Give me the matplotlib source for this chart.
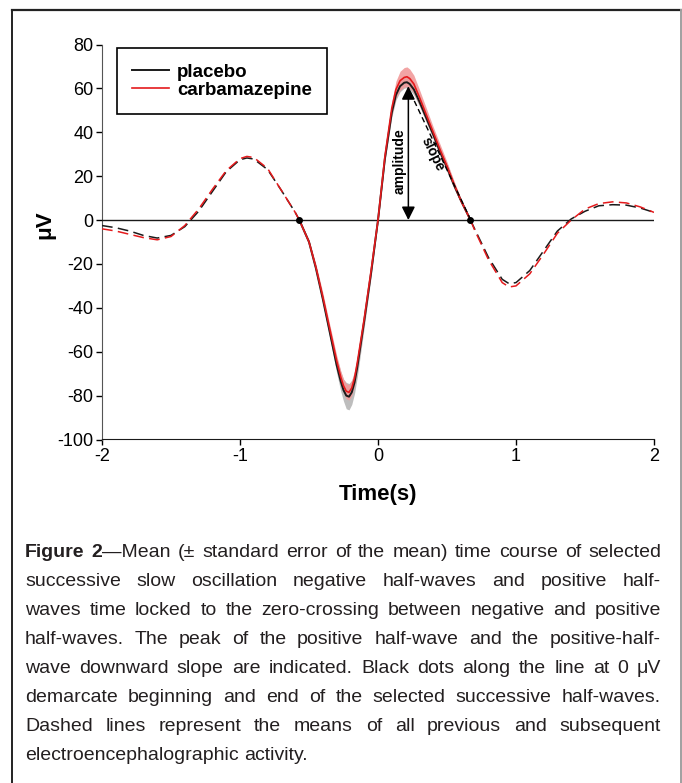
import matplotlib.pyplot as plt
from matplotlib.lines import Line2D

plt.rcParams['font.family'] = ['Liberation Sans Narrow', 'Liberation Sans', 'DejaVu Sans']
plt.rcParams['axes.unicode_minus'] = False

# --- data (time in s, amplitude in uV) ---
# dashed: activity before the selected negative half-wave
pre_t = [-2.0, -1.9, -1.8, -1.7, -1.6, -1.5, -1.4, -1.3, -1.2, -1.1, -1.0, -0.95, -0.9, -0.8, -0.7, -0.6, -0.57]
pre_placebo = [-2.5, -3.5, -5.0, -7.0, -8.2, -7.0, -3.0, 4.0, 13.0, 22.0, 27.5, 28.3, 27.8, 23.0, 13.5, 3.5, 0.0]
pre_cbz = [-4.0, -5.0, -6.5, -8.0, -9.0, -7.5, -2.5, 5.0, 14.0, 22.5, 28.0, 29.0, 28.5, 23.5, 13.5, 3.5, 0.0]

# solid: selected negative + positive half-waves (with SEM)
sel_t = [-0.57, -0.5, -0.45, -0.4, -0.35, -0.3, -0.27, -0.25, -0.23, -0.21, -0.19, -0.17, -0.15, -0.1, -0.05,
         0.0, 0.05, 0.1, 0.13, 0.16, 0.19, 0.21, 0.23, 0.26, 0.3, 0.35, 0.4, 0.45, 0.5, 0.55, 0.6, 0.67]
sel_placebo = [0.0, -10.0, -22.0, -36.0, -51.0, -66.0, -73.5, -77.5, -80.0, -80.5, -78.5, -74.0, -67.0, -46.0, -24.0,
               0.0, 28.0, 49.0, 57.0, 61.0, 62.6, 62.8, 62.0, 59.5, 54.0, 46.5, 39.0, 31.0, 24.0, 16.0, 9.0, 0.0]
sel_cbz = [0.0, -10.0, -21.5, -35.0, -49.5, -64.0, -71.5, -75.5, -78.0, -78.5, -76.5, -72.0, -65.0, -45.0, -23.0,
           0.0, 29.0, 51.0, 59.5, 63.5, 65.0, 65.3, 64.5, 62.0, 56.0, 48.0, 40.0, 32.0, 24.5, 16.5, 9.0, 0.0]
sem_placebo = [0.5, 1.0, 1.5, 2.0, 2.5, 3.5, 4.5, 5.0, 6.0, 6.0, 5.5, 5.0, 4.5, 3.0, 2.0,
               1.0, 1.5, 2.0, 2.3, 2.5, 2.5, 2.5, 2.5, 2.5, 2.0, 2.0, 2.0, 2.0, 2.0, 1.5, 1.0, 0.5]
sem_cbz = [0.5, 1.0, 1.5, 2.0, 2.0, 2.5, 2.8, 3.0, 3.5, 3.5, 3.5, 3.2, 3.0, 2.5, 2.0,
           1.0, 2.0, 3.0, 3.8, 4.3, 4.5, 4.5, 4.3, 4.0, 3.5, 3.0, 2.5, 2.5, 2.0, 1.5, 1.0, 0.5]

# dashed: activity after the selected positive half-wave
post_t = [0.67, 0.7, 0.8, 0.9, 0.95, 1.0, 1.1, 1.2, 1.3, 1.4, 1.5, 1.6, 1.7, 1.8, 1.9, 2.0]
post_placebo = [0.0, -4.0, -17.0, -27.0, -29.0, -28.5, -23.0, -14.0, -5.0, 0.5, 4.0, 6.5, 7.0, 6.8, 5.5, 3.5]
post_cbz = [0.0, -4.5, -18.0, -28.5, -30.5, -30.0, -24.5, -15.5, -6.0, 0.0, 5.0, 7.5, 8.3, 7.8, 6.0, 3.5]

dots_t = [-0.57, 0.67]
amp_t, amp_top = 0.22, 61.0
slope_start, slope_end = (0.235, 58.0), (0.665, 1.0)

x_ticks = [-2, -1, 0, 1, 2]
y_ticks = [-100, -80, -60, -40, -20, 0, 20, 40, 60, 80]

caption = [
    [[("Figure", "bold")], [("2", "bold"), ("\u2014Mean", "normal")], "(\u00b1", "standard", "error", "of", "the",
     "mean)", "time", "course", "of", "selected"],
    "successive slow oscillation negative half-waves and positive half-",
    "waves time locked to the zero-crossing between negative and positive",
    "half-waves. The peak of the positive half-wave and the positive-half-",
    "wave downward slope are indicated. Black dots along the line at 0 \u03bcV",
    "demarcate beginning and end of the selected successive half-waves.",
    "Dashed lines represent the means of all previous and subsequent",
    "electroencephalographic activity.",
]

BLACK = '#1a1a1a'
RED = '#e41a1c'

fig = plt.figure(figsize=(6.82, 7.83), dpi=100)
W, H = 682, 783
ax = fig.add_axes([102 / W, 1 - 439.5 / H, 552 / W, 395 / H])

# SEM bands
ax.fill_between(sel_t, [m - s for m, s in zip(sel_placebo, sem_placebo)],
                [m + s for m, s in zip(sel_placebo, sem_placebo)], color='#bdbdbd', lw=0, zorder=1)
ax.fill_between(sel_t, [m - s for m, s in zip(sel_cbz, sem_cbz)],
                [m + s for m, s in zip(sel_cbz, sem_cbz)], color='#f19a9a', lw=0, alpha=0.9, zorder=2)

ax.axhline(0, color=BLACK, lw=1.0, zorder=3)

dash = (0, (7, 3.5))
ax.plot(pre_t, pre_placebo, color=BLACK, lw=1.1, ls=dash, zorder=4)
ax.plot(pre_t, pre_cbz, color=RED, lw=1.1, ls=dash, zorder=4)
ax.plot(post_t, post_placebo, color=BLACK, lw=1.1, ls=dash, zorder=4)
ax.plot(post_t, post_cbz, color=RED, lw=1.1, ls=dash, zorder=4)
ax.plot(sel_t, sel_placebo, color=BLACK, lw=1.4, zorder=5, label='placebo')
ax.plot(sel_t, sel_cbz, color=RED, lw=1.2, zorder=5, label='carbamazepine')
ax.plot(dots_t, [0, 0], 'o', color='black', ms=4, zorder=6)

# amplitude arrow and slope line
ax.annotate('', xy=(amp_t, amp_top), xytext=(amp_t, 0),
            arrowprops=dict(arrowstyle='<|-|>', color='black', lw=1.1, mutation_scale=20,
                            shrinkA=0, shrinkB=0), zorder=7)
ax.text(amp_t - 0.065, 27, 'amplitude', rotation=90, ha='center', va='center',
        fontsize=10, fontweight='bold', zorder=7)
ax.plot([slope_start[0], slope_end[0]], [slope_start[1], slope_end[1]], color='black', lw=1.0,
        ls=(0, (4, 2.5)), zorder=7)
ax.text(0.40, 30, 'slope', rotation=-64, ha='center', va='center', fontsize=10,
        fontweight='bold', zorder=7)

ax.set_xlim(-2, 2)
ax.set_ylim(-100, 80)
ax.set_xticks(x_ticks)
ax.set_yticks(y_ticks)
ax.tick_params(labelsize=13, length=4, width=1, direction='out', pad=2)
for s in ['top', 'right']:
    ax.spines[s].set_visible(False)
ax.spines['left'].set_color('#555555')
ax.spines['bottom'].set_color(BLACK)
ax.set_xlabel('Time(s)', fontsize=16, fontweight='bold', labelpad=14)
ax.set_ylabel('\u03bcV', fontsize=16, fontweight='bold')
ax.yaxis.set_label_coords(-0.085, 0.545)

leg = ax.legend(loc='upper left', bbox_to_anchor=(0.027, 0.99), borderaxespad=0, frameon=True,
                fancybox=False, edgecolor='black', handlelength=2.0, handletextpad=0.4,
                borderpad=0.8, labelspacing=0.05, prop={'weight': 'bold', 'size': 13.5})
leg.get_frame().set_linewidth(1.2)
leg.get_frame().set_alpha(None)

# frame of the figure panel
fig.add_artist(Line2D([12 / W, 12 / W], [0, 1 - 9.5 / H], transform=fig.transFigure, color='#222222', lw=1.4))
fig.add_artist(Line2D([12 / W, 681 / W], [1 - 9.5 / H, 1 - 9.5 / H], transform=fig.transFigure,
                      color='#222222', lw=1.6))
fig.add_artist(Line2D([680.5 / W, 680.5 / W], [0, 1 - 9.5 / H], transform=fig.transFigure,
                      color='#a0a0a0', lw=1.4))

# justified caption
renderer = fig.canvas.get_renderer()
cap_size = 14
left_px, right_px = 25, 661
first_base, line_gap = 557, 29


def make_word(runs, y):
    items = []
    for txt, weight in runs:
        t = fig.text(0, y, txt, fontsize=cap_size, fontweight=weight, color='#231f20',
                     va='baseline', ha='left', transform=None)
        items.append(t)
    widths = [t.get_window_extent(renderer).width for t in items]
    return items, widths


probe_a = fig.text(0, 0, 'a b', fontsize=cap_size)
probe_b = fig.text(0, 0, 'ab', fontsize=cap_size)
space = probe_a.get_window_extent(renderer).width - probe_b.get_window_extent(renderer).width
probe_a.remove()
probe_b.remove()

for i, line in enumerate(caption):
    y = H - (first_base + i * line_gap)
    words = line.split() if isinstance(line, str) else line
    words = [[(w, 'normal')] if isinstance(w, str) else w for w in words]
    built = [make_word(w, y) for w in words]
    total = sum(sum(ws) for _, ws in built)
    if i < len(caption) - 1:
        gap = (right_px - left_px - total) / (len(built) - 1)
    else:
        gap = space
    x = left_px
    for items, ws in built:
        for t, w in zip(items, ws):
            t.set_position((x, y))
            x += w
        x += gap

fig.savefig('out.png', dpi=100)
